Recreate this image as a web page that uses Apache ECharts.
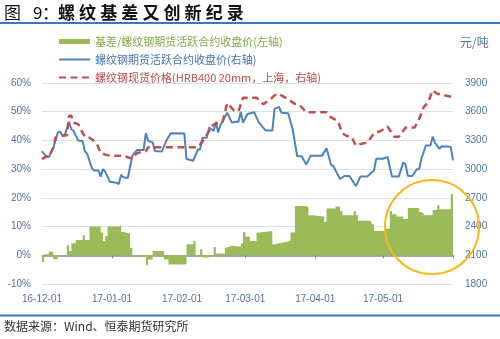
<!DOCTYPE html>
<html>
<head>
<meta charset="utf-8">
<script src="https://cdn.jsdelivr.net/npm/echarts@6/dist/echarts.min.js"></script>
<style>
html, body { margin: 0; padding: 0; background: #ffffff; }
#chart { width: 500px; height: 339px; }
</style>
</head>
<body>
<div id="chart"></div>
<script>
// Basis as % of the futures close; each value holds from its date to the next date
const basisDates = [
  '2016-12-01','2016-12-02','2016-12-04','2016-12-06','2016-12-08','2016-12-12','2016-12-13','2016-12-14',
  '2016-12-16','2016-12-19','2016-12-20','2016-12-22','2016-12-27','2016-12-28','2016-12-29','2016-12-30',
  '2017-01-04','2017-01-05','2017-01-06','2017-01-09','2017-01-10','2017-01-11','2017-01-16','2017-01-17',
  '2017-01-19','2017-01-24','2017-01-26','2017-02-03','2017-02-06','2017-02-07','2017-02-09','2017-02-10',
  '2017-02-13','2017-02-15','2017-02-16','2017-02-20','2017-02-21','2017-02-23','2017-02-27','2017-02-28',
  '2017-03-01','2017-03-03','2017-03-06','2017-03-07','2017-03-13','2017-03-14','2017-03-17','2017-03-21',
  '2017-03-23','2017-03-28','2017-03-29','2017-03-31','2017-04-05','2017-04-06','2017-04-10','2017-04-12',
  '2017-04-13','2017-04-18','2017-04-19','2017-04-20','2017-04-25','2017-04-26','2017-04-27','2017-05-02',
  '2017-05-04','2017-05-05','2017-05-07','2017-05-10','2017-05-12','2017-05-17','2017-05-18','2017-05-19',
  '2017-05-23','2017-05-25','2017-05-26','2017-05-31','2017-06-01'
];
const basisValues = [
  -2.3, 0.4, 1.2, -1.4, 0.1, 3.5, 1.5, 4.2,
  5.3, 7.0, 5.3, 10.0, 7.9, 5.0, 6.7, 10.0,
  10.4, 8.1, 7.6, 2.5, -0.3, -0.5, -3.5, -1.5,
  1.5, -1.5, -3.2, 3.8, 5.0, -0.3, 2.1, -0.8,
  0.1, 2.9, 0.6, 2.7, 3.3, 3.0, 4.1, 8.1,
  6.5, 5.0, 7.9, 8.5, 3.8, 4.4, 5.0, 7.9,
  17.2, 16.6, 13.9, 13.5, 11.6, 16.3, 17.0, 15.4,
  13.9, 15.4, 13.9, 12.0, 11.6, 10.8, 8.5, 9.3,
  15.4, 14.3, 13.5, 12.6, 16.5, 15.1, 14.6, 13.9,
  15.8, 17.4, 16.0, 21.3, 21.3
];

// Rebar futures, most active contract close (yuan/ton)
const futDates = [
  '2016-12-01','2016-12-03','2016-12-04','2016-12-06','2016-12-08','2016-12-09','2016-12-10','2016-12-11',
  '2016-12-13','2016-12-14','2016-12-15','2016-12-17','2016-12-19','2016-12-20','2016-12-21','2016-12-23',
  '2016-12-24','2016-12-26','2016-12-27','2016-12-28','2016-12-29','2016-12-31','2017-01-03','2017-01-04',
  '2017-01-05','2017-01-06','2017-01-08','2017-01-10','2017-01-12','2017-01-15','2017-01-16','2017-01-17',
  '2017-01-19','2017-01-20','2017-01-23','2017-01-25','2017-01-27','2017-02-02','2017-02-03','2017-02-06',
  '2017-02-08','2017-02-09','2017-02-10','2017-02-12','2017-02-13','2017-02-15','2017-02-16','2017-02-17',
  '2017-02-18','2017-02-21','2017-02-23','2017-02-25','2017-02-26','2017-02-27','2017-02-28','2017-03-02',
  '2017-03-05','2017-03-07','2017-03-10','2017-03-13','2017-03-14','2017-03-16','2017-03-17','2017-03-20',
  '2017-03-22','2017-03-24','2017-03-26','2017-03-28','2017-03-30','2017-04-04','2017-04-06','2017-04-08',
  '2017-04-09','2017-04-10','2017-04-12','2017-04-14','2017-04-16','2017-04-17','2017-04-19','2017-04-21',
  '2017-04-24','2017-04-27','2017-04-28','2017-05-01','2017-05-03','2017-05-05','2017-05-08','2017-05-09',
  '2017-05-10','2017-05-11','2017-05-12','2017-05-14','2017-05-16','2017-05-17','2017-05-18','2017-05-20',
  '2017-05-22','2017-05-23','2017-05-24','2017-05-26','2017-05-27','2017-05-31','2017-06-01'
];
const futValues = [
  3187, 3127, 3127, 3222, 3382, 3392, 3353, 3353,
  3494, 3417, 3399, 3300, 3293, 3187, 3162, 3017,
  2985, 2985, 2922, 3000, 2975, 2869, 2858, 2844,
  2940, 2915, 2907, 3140, 3200, 3200, 3375, 3296,
  3280, 3190, 3183, 3293, 3374, 3373, 3106, 3088,
  3205, 3205, 3329, 3329, 3435, 3399, 3494, 3382,
  3459, 3590, 3488, 3494, 3494, 3600, 3488, 3576,
  3594, 3488, 3405, 3405, 3629, 3650, 3590, 3585,
  3417, 3135, 3135, 3047, 3141, 3141, 3217, 3045,
  3035, 2985, 2897, 2929, 2929, 2897, 2823, 2922,
  2922, 2985, 3109, 3109, 3127, 2922, 2922, 3000,
  3071, 3047, 2929, 2929, 3000, 3000, 3109, 3247,
  3247, 3339, 3276, 3212, 3240, 3233, 3092
];

// Rebar spot price, HRB400 20mm, Shanghai (yuan/ton)
const spotDates = [
  '2016-12-01','2016-12-03','2016-12-04','2016-12-06','2016-12-07','2016-12-08','2016-12-10','2016-12-12',
  '2016-12-13','2016-12-14','2016-12-15','2016-12-17','2016-12-20','2016-12-22','2016-12-24','2016-12-25',
  '2016-12-27','2016-12-29','2016-12-31','2017-01-06','2017-01-10','2017-01-12','2017-01-16','2017-01-17',
  '2017-02-02','2017-02-08','2017-02-10','2017-02-13','2017-02-14','2017-02-17','2017-02-19','2017-02-21',
  '2017-02-24','2017-02-26','2017-02-28','2017-03-06','2017-03-07','2017-03-09','2017-03-12','2017-03-15',
  '2017-03-17','2017-03-19','2017-03-23','2017-03-25','2017-03-28','2017-04-06','2017-04-08','2017-04-11',
  '2017-04-13','2017-04-15','2017-04-17','2017-04-19','2017-04-22','2017-04-24','2017-04-27','2017-04-30',
  '2017-05-03','2017-05-06','2017-05-08','2017-05-11','2017-05-15','2017-05-17','2017-05-19','2017-05-21',
  '2017-05-23','2017-05-25','2017-05-27','2017-06-01'
];
const spotValues = [
  3105, 3134, 3127, 3223, 3330, 3340, 3350, 3353,
  3557, 3557, 3486, 3470, 3336, 3329, 3296, 3280,
  3170, 3152, 3141, 3140, 3108, 3168, 3188, 3230,
  3230, 3230, 3285, 3400, 3449, 3488, 3495, 3690,
  3615, 3604, 3745, 3745, 3728, 3678, 3730, 3790,
  3771, 3745, 3682, 3672, 3594, 3594, 3541, 3505,
  3374, 3346, 3339, 3247, 3268, 3276, 3374, 3399,
  3445, 3339, 3339, 3435, 3435, 3523, 3647, 3700,
  3823, 3788, 3777, 3753
];

// Month boundaries on the date axis; the last one only gets a tick mark
const monthTicks = ['2016-12-01','2017-01-01','2017-02-01','2017-03-01','2017-04-01','2017-05-01','2017-06-01'];
const monthLabels = monthTicks.slice(0, 6);

const seriesNames = [
  '基差/螺纹钢期货活跃合约收盘价(左轴)',
  '螺纹钢期货活跃合约收盘价(右轴)',
  '螺纹钢现货价格(HRB400 20mm，上海，右轴)'
];

// dates become day numbers (UTC midnight / 86400000) on a linear value axis
const dayNum = s => {
  const [y, m, d] = s.split('-').map(Number);
  return Date.UTC(y, m - 1, d) / 86400000;
};
const pad = n => (n < 10 ? '0' : '') + n;
const dayLabel = v => {
  const dt = new Date(Math.round(v) * 86400000);
  return pad(dt.getUTCFullYear() % 100) + '-' + pad(dt.getUTCMonth() + 1) + '-' + pad(dt.getUTCDate());
};
const pairs = (dates, vals) => dates.map((d, i) => [dayNum(d), vals[i]]);

const AXIS_TXT = '#56729F';
const GREEN = '#9BBB59';
const BLUE = '#4F81BD';
const RED = '#C0504D';
const RULE = '#3C76BE';
const LATIN = 'Liberation Sans, Arial, sans-serif';
const CJK = '"Noto Sans CJK SC", sans-serif';
const NO_MARKER = { color: 'rgba(0,0,0,0)', borderWidth: 0, borderColor: 'rgba(0,0,0,0)' };

// Heading text, laid out glyph by glyph for its wide spacing
const headingGlyphs = Array.from('螺纹基差又创新纪录');
const heading = [
  { type: 'text', left: 4, top: 4, style: { text: '图', font: '17px ' + CJK, fill: '#111' } },
  { type: 'text', left: 33, top: 4, style: { text: '9', font: '17px ' + CJK, fill: '#111' } },
  { type: 'text', left: 42, top: 4, style: { text: '：', font: '17px ' + CJK, fill: '#111' } }
].concat(headingGlyphs.map((g, i) => ({
  type: 'text', left: 58 + i * 21.1, top: 4,
  style: { text: g, font: 'bold 17px ' + CJK, fill: '#111' }
})));

const xMin = dayNum(monthTicks[0]);
const xMax = dayNum(monthTicks[6]);

const chart = echarts.init(document.getElementById('chart'), null, { renderer: 'canvas' });
chart.setOption({
  animation: false,
  backgroundColor: '#ffffff',
  grid: { left: 42, right: 47, top: 83, bottom: 55, containLabel: false },
  legend: {
    orient: 'vertical', left: 58, top: 36, padding: 0,
    itemWidth: 31, itemHeight: 5, itemGap: 7, selectedMode: false,
    textStyle: { fontSize: 11, fontFamily: CJK },
    data: [
      { name: seriesNames[0], icon: 'rect', itemStyle: { color: GREEN }, textStyle: { color: '#86A947' } },
      { name: seriesNames[1], itemStyle: NO_MARKER, textStyle: { color: '#4A74B5' } },
      { name: seriesNames[2], itemStyle: NO_MARKER, textStyle: { color: '#BE4B48' } }
    ]
  },
  xAxis: [
    {
      type: 'value', min: xMin, max: xMax, position: 'bottom',
      axisLine: { show: false, onZero: false }, axisTick: { show: false }, splitLine: { show: false },
      axisLabel: {
        customValues: monthLabels.map(dayNum), color: AXIS_TXT, fontSize: 10, fontFamily: LATIN, margin: 10,
        formatter: dayLabel
      }
    },
    {
      type: 'value', min: xMin, max: xMax, position: 'bottom',
      axisLine: { show: true, onZero: true, onZeroAxisIndex: 0, lineStyle: { color: '#8C8C8C', width: 1.5 } },
      axisTick: { show: true, customValues: monthTicks.map(dayNum), length: 3, lineStyle: { color: '#8C8C8C', width: 1 } },
      axisLabel: { show: false }, splitLine: { show: false }
    }
  ],
  yAxis: [
    {
      type: 'value', min: -10, max: 60, interval: 10,
      axisLine: { show: false }, axisTick: { show: false },
      axisLabel: { formatter: '{value}%', color: AXIS_TXT, fontSize: 10, fontFamily: LATIN, margin: 11 },
      splitLine: { lineStyle: { color: '#D8E3F1', width: 1 } }
    },
    {
      type: 'value', min: 1800, max: 3900, interval: 300, position: 'right',
      axisLine: { show: false }, axisTick: { show: false },
      axisLabel: { formatter: v => String(v), color: AXIS_TXT, fontSize: 10, fontFamily: LATIN, margin: 12 },
      splitLine: { show: false }
    }
  ],
  series: [
    {
      name: seriesNames[0], type: 'line', xAxisIndex: 1, yAxisIndex: 0,
      step: 'end', symbol: 'none', color: GREEN,
      lineStyle: { width: 0, color: GREEN },
      areaStyle: { color: GREEN, opacity: 1 },
      data: pairs(basisDates, basisValues), z: 1
    },
    {
      name: seriesNames[1], type: 'line', xAxisIndex: 0, yAxisIndex: 1,
      symbol: 'none', color: BLUE,
      lineStyle: { color: BLUE, width: 2 },
      data: pairs(futDates, futValues), z: 3
    },
    {
      name: seriesNames[2], type: 'line', xAxisIndex: 0, yAxisIndex: 1,
      symbol: 'none', color: RED,
      lineStyle: { color: RED, width: 2.5, type: [7, 4.5] },
      data: pairs(spotDates, spotValues), z: 4
    }
  ],
  graphic: heading.concat([
    { type: 'line', shape: { x1: 0, y1: 23, x2: 500, y2: 23 }, style: { stroke: RULE, lineWidth: 2 } },
    { type: 'line', shape: { x1: 0, y1: 315.5, x2: 500, y2: 315.5 }, style: { stroke: RULE, lineWidth: 2 } },
    { type: 'text', left: 460, top: 36, style: { text: '元/吨', font: '12px ' + CJK, fill: AXIS_TXT } },
    { type: 'text', left: 4, top: 320, style: { text: '数据来源：Wind、恒泰期货研究所', font: '12px ' + CJK, fill: '#333' } },
    { type: 'circle', shape: { cx: 432, cy: 227, r: 47 }, style: { fill: 'none', stroke: '#F8B81B', lineWidth: 2 }, z: 100 }
  ])
});
</script>
</body>
</html>
